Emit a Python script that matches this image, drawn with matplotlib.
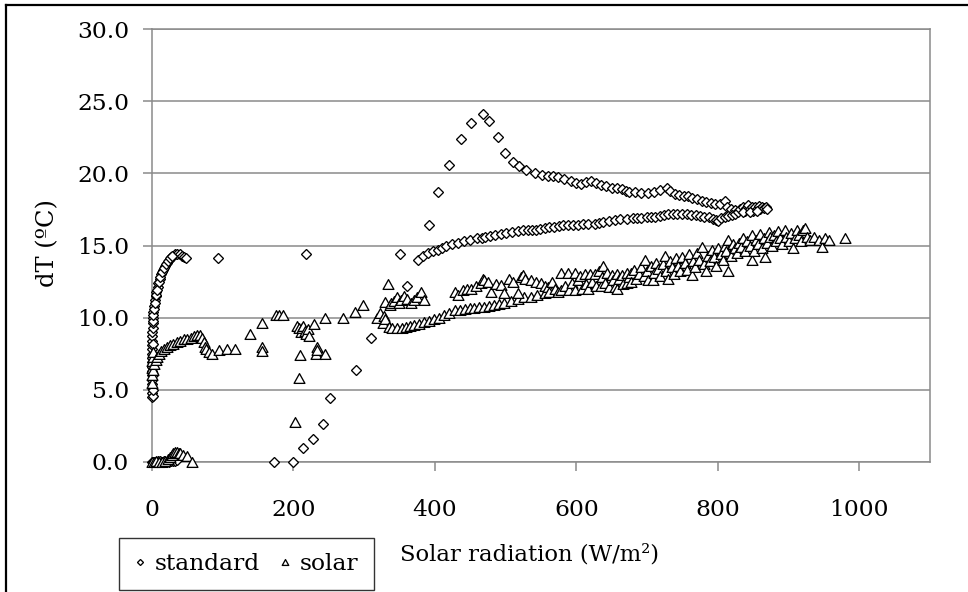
import matplotlib.pyplot as plt
from matplotlib.lines import Line2D
from matplotlib.path import Path

# Collector temperature rise vs. solar radiation, two collector types.

# standard collector: low-radiation morning points
std_morning_x = [0, 2, 4, 6, 8, 10, 12, 14, 17, 20, 24, 27, 30, 33, 36,
                 0, 0, 0, 0, 0, 0, 0, 0, 0, 0, 0, 0, 0, 0, 0, 0, 1, 1, 1,
                 1, 2, 2, 3, 4, 5, 6, 8, 9, 11, 13, 15, 18, 21, 24, 27, 30,
                 33, 36, 39, 42, 45, 48,
                 1, 1, 2, 2, 3, 4, 6, 7, 10, 12, 14, 17, 20, 23, 26, 29]
std_morning_y = [0, 0, 0, 0, 0.05, 0, 0.05, 0, 0.1, 0, 0, 0.1, 0.05, 0.1, 0.15,
                 4.5, 4.8, 5.1, 5.4, 5.7, 6.0, 6.3, 6.6, 6.9, 7.2, 7.5, 7.8, 8.1, 8.4, 8.7, 9.0, 9.3, 4.6, 5.0,
                 9.6, 10.0, 10.4, 10.8, 11.2, 11.5, 11.8, 12.1, 12.4, 12.7, 13.0, 13.3, 13.6, 13.8, 14.0, 14.2, 14.3,
                 14.4, 14.4, 14.4, 14.3, 14.2, 14.1,
                 6.0, 8.2, 9.8, 10.2, 10.6, 11.0, 11.6, 11.9, 12.5, 12.85, 13.15, 13.45, 13.7, 13.9, 14.1, 14.25]

# standard collector: scattered points and the rise towards the peak
std_rise_x = [94, 218, 173, 200, 214, 228, 242, 252, 288, 309, 361, 350, 376, 391,
              404, 420, 437, 451, 468]
std_rise_y = [14.1, 14.4, 0, 0, 1.0, 1.6, 2.6, 4.4, 6.4, 8.6, 12.2, 14.4, 14.0, 16.4,
              18.7, 20.6, 22.4, 23.5, 24.1]

# standard collector: afternoon (falling) branch
std_fall_x = [477, 489, 499, 510, 519, 529, 541, 552, 560, 567, 574, 583, 593, 600,
              607, 614, 621, 628, 635, 642, 650, 657, 664, 670, 675, 683, 692, 701,
              710, 719, 728, 733, 739, 745, 752, 758, 764, 771, 777, 783, 790, 796,
              803, 810, 813, 818, 824]
std_fall_y = [23.6, 22.5, 21.4, 20.8, 20.5, 20.2, 20.0, 19.9, 19.8, 19.8, 19.75, 19.6, 19.5, 19.35,
              19.25, 19.4, 19.5, 19.35, 19.2, 19.1, 19.0, 18.95, 18.9, 18.8, 18.7, 18.7, 18.65, 18.65,
              18.7, 18.85, 19.0, 18.8, 18.6, 18.5, 18.45, 18.4, 18.3, 18.2, 18.1, 18.0, 17.95, 17.9,
              17.85, 18.1, 17.7, 17.55, 17.45]

# standard collector: morning (rising) branch up to midday
std_climb_x = [383, 390, 397, 404, 410, 416, 424, 432, 441, 450, 460, 466, 471, 478,
               485, 493, 501, 509, 517, 525, 532, 538, 543, 549, 555, 562, 569, 575,
               581, 588, 595, 602, 609, 617, 626, 632, 638, 646, 654, 662, 671, 680,
               686, 692, 700, 706, 711, 718, 724, 730, 737, 743, 749, 756, 762, 769,
               775, 781, 788, 793, 797, 800, 805, 810, 815, 820, 825, 829]
std_climb_y = [14.3, 14.5, 14.6, 14.7, 14.85, 15.0, 15.1, 15.2, 15.3, 15.4, 15.5, 15.5, 15.56, 15.65,
               15.74, 15.8, 15.9, 15.95, 16.0, 16.05, 16.07, 16.1, 16.1, 16.15, 16.18, 16.25, 16.3, 16.35,
               16.4, 16.4, 16.4, 16.45, 16.5, 16.5, 16.5, 16.55, 16.6, 16.7, 16.8, 16.85, 16.87, 16.88,
               16.9, 16.9, 16.95, 17.0, 17.0, 17.05, 17.1, 17.15, 17.2, 17.2, 17.2, 17.15, 17.1, 17.1,
               17.05, 17.0, 17.0, 16.85, 16.75, 16.7, 16.9, 17.0, 17.05, 17.1, 17.2, 17.3]

# standard collector: midday cluster
std_noon_x = [832, 835, 838, 840, 843, 845, 848, 850, 852, 855, 858, 860, 862, 865,
              868, 870, 836, 846, 856]
std_noon_y = [17.5, 17.7, 17.4, 17.6, 17.8, 17.5, 17.65, 17.4, 17.7, 17.55, 17.75, 17.5, 17.65, 17.6,
              17.7, 17.55, 17.3, 17.3, 17.4]

# solar collector: low-radiation morning points
sol_morning_x = [0, 3, 6, 10, 14, 18, 22, 25, 28, 30, 33, 36, 38, 40, 44, 49, 56,
                 0, 0, 0, 0, 1, 1,
                 2, 3, 5, 7, 10, 13, 17, 21, 25, 30, 35, 40, 45, 50, 55, 60, 64, 68,
                 71, 73, 75, 77, 80, 85, 95, 106, 117]
sol_morning_y = [0, 0, 0.05, 0, 0, 0.1, 0.2, 0.35, 0.5, 0.6, 0.7, 0.7, 0.6, 0.6, 0.5, 0.4, 0.0,
                 5.5, 6.0, 6.5, 7.0, 7.3, 7.6,
                 6.4, 6.8, 7.1, 7.3, 7.5, 7.7, 7.85, 8.0, 8.1, 8.2, 8.3, 8.4, 8.5, 8.55, 8.6, 8.7, 8.8, 8.8,
                 8.6, 8.3, 8.0, 7.8, 7.6, 7.5, 7.75, 7.8, 7.8]

# solar collector: scattered points between 130 and 320 W/m2
sol_scatter_x = [138, 155, 156, 156, 175, 180, 185, 202, 208, 210, 205, 208, 211, 212,
                 214, 216, 218, 220, 222, 229, 232, 234, 234, 245, 245, 270, 287, 299]
sol_scatter_y = [8.85, 8.0, 7.7, 9.6, 10.2, 10.2, 10.2, 2.75, 5.85, 7.4, 9.45, 9.3, 9.0, 9.25,
                 9.4, 9.1, 8.9, 9.2, 8.7, 9.56, 7.5, 8.0, 7.75, 7.5, 9.95, 9.95, 10.4, 10.9]

# solar collector: lower (morning) branch
sol_lower_x = [318, 322, 326, 328, 330, 335, 340, 347, 353, 359, 365, 371, 378, 385,
               392, 399, 406, 413, 420, 428, 435, 442, 449, 456, 463, 470, 477, 484,
               491, 498, 507, 517, 526, 536, 545, 555]
sol_lower_y = [10.0, 10.3, 9.6, 10.1, 9.9, 9.37, 9.3, 9.26, 9.3, 9.37, 9.45, 9.49, 9.55, 9.67,
               9.75, 9.88, 10.0, 10.18, 10.3, 10.5, 10.55, 10.6, 10.65, 10.7, 10.72, 10.75, 10.8, 10.87,
               10.95, 11.0, 11.15, 11.3, 11.4, 11.45, 11.55, 11.7]

# solar collector: upper (afternoon) scatter
sol_upper_x = [330, 334, 336, 338, 342, 346, 349, 352, 356, 361, 366, 371, 375, 380,
               385, 428, 433, 440, 446, 451, 458, 465, 468, 470, 475, 480, 486, 494,
               498, 505, 510, 517, 522, 524, 528, 536, 543, 550, 556]
sol_upper_y = [11.1, 12.3, 10.9, 11.0, 11.17, 11.4, 11.0, 11.2, 11.5, 11.3, 11.0, 11.2, 11.4, 11.75,
               11.2, 11.8, 11.6, 11.9, 12.0, 11.96, 12.2, 12.4, 12.7, 12.6, 12.5, 11.8, 12.3, 12.26,
               11.7, 12.67, 12.5, 11.7, 12.8, 12.95, 12.7, 12.6, 12.5, 12.37, 12.2]

# solar collector: high-radiation band
sol_band_x = [560, 562, 566, 570, 574, 579, 579, 584, 588, 590, 594, 598, 598, 603,
              605, 608, 612, 614, 617, 619, 622, 626, 628, 632, 635, 637, 638, 641,
              644, 646, 650, 652, 654, 657, 657, 660, 664, 666, 671, 671, 675, 678,
              678, 682, 685, 688, 692, 695, 697, 700, 702, 705, 709, 710, 713, 716,
              719, 722, 725, 727, 730, 732, 735, 738, 741, 744, 747, 750, 753, 756,
              760, 763, 765, 768, 771, 774, 777, 780, 784, 786, 789, 792, 795, 798,
              801, 804, 807, 810, 812, 815, 815, 818, 821, 824, 827, 830, 833, 836,
              839, 842, 845, 848, 848, 851, 854, 857, 860, 862, 865, 867, 869, 872,
              874, 877, 880, 882, 885, 888, 891, 895, 897, 900, 903, 907, 909, 912,
              915, 918, 921, 924, 926, 930, 936, 943, 947, 952, 957, 980]
sol_band_y = [12.1, 11.8, 12.5, 12.0, 11.8, 13.1, 11.9, 12.2, 13.1, 11.9, 12.4, 13.1, 11.9, 12.6,
              12.9, 12.0, 13.0, 12.3, 12.0, 13.0, 12.5, 13.0, 12.2, 13.2, 12.2, 12.8, 13.6, 12.4,
              13.1, 12.1, 12.95, 12.6, 12.1, 13.0, 12.0, 12.7, 12.95, 12.3, 13.1, 12.4, 12.8, 13.1,
              12.5, 13.3, 12.7, 13.0, 13.5, 12.9, 14.0, 13.2, 12.6, 13.6, 12.6, 13.1, 13.8, 13.4,
              12.9, 13.7, 14.3, 13.2, 12.7, 13.9, 13.5, 13.0, 14.1, 13.6, 13.2, 14.2, 13.8, 13.3,
              14.4, 12.95, 13.9, 13.5, 14.5, 14.0, 14.9, 13.7, 13.2, 14.3, 13.9, 14.7, 14.2, 13.6,
              14.8, 14.4, 14.0, 15.0, 14.6, 15.4, 13.2, 14.3, 15.1, 14.8, 14.5, 15.2, 14.9, 15.5,
              14.6, 15.3, 15.0, 14.0, 15.7, 14.6, 15.4, 15.1, 15.8, 14.8, 15.5, 14.2, 15.2, 15.95,
              15.6, 15.0, 15.7, 15.3, 16.0, 15.5, 15.1, 16.07, 15.6, 15.3, 15.9, 14.8, 15.5, 16.1,
              15.7, 15.3, 16.07, 16.2, 15.6, 15.4, 15.6, 15.4, 14.9, 15.5, 15.4, 15.5]

x_ticks = [0, 200, 400, 600, 800, 1000]
y_ticks = [0, 5, 10, 15, 20, 25, 30]

standard_x = std_morning_x + std_rise_x + std_fall_x + std_climb_x + std_noon_x
standard_y = std_morning_y + std_rise_y + std_fall_y + std_climb_y + std_noon_y
solar_x = sol_morning_x + sol_scatter_x + sol_lower_x + sol_upper_x + sol_band_x
solar_y = sol_morning_y + sol_scatter_y + sol_lower_y + sol_upper_y + sol_band_y

plt.rcParams['font.family'] = ['DejaVu Serif']
GRIS = '#8a8a8a'
TAM = 16.8

fig = plt.figure(figsize=(9.68, 5.92), dpi=100)
ax = fig.add_axes([0.157, 0.2196, 0.8037, 0.7314])

# open triangle, a bit flatter than matplotlib's '^'
triangulo = Path([(0, 0.9), (-1, -0.9), (1, -0.9), (0, 0.9)], closed=True)

ax.plot(standard_x, standard_y, linestyle='none', marker='D', ms=5.1,
        mfc='white', mec='black', mew=0.95, clip_on=False, zorder=3, label='standard')
ax.plot(solar_x, solar_y, linestyle='none', marker=triangulo, ms=7.8,
        mfc='white', mec='black', mew=0.95, clip_on=False, zorder=4, label='solar')

ax.set_xlim(0, 1100)
ax.set_ylim(0, 30)
ax.set_xticks(x_ticks)
ax.set_yticks(y_ticks)
ax.set_yticklabels([f'{v:.1f}' for v in y_ticks])
ax.grid(axis='y', color=GRIS, linewidth=1.1)
ax.set_axisbelow(True)
for s in ax.spines.values():
    s.set_color(GRIS)
    s.set_linewidth(1.1)
ax.tick_params(axis='both', direction='out', length=6.5, width=1.1, color=GRIS,
               labelsize=TAM, labelcolor='black')
ax.tick_params(axis='x', pad=20)
ax.tick_params(axis='y', pad=10)

fig.text(48 / 968, 1 - 243 / 592, 'dT (ºC)', rotation=90, ha='center', va='center', fontsize=TAM + 0.6)
fig.text(530 / 968, 1 - 555 / 592, 'Solar radiation (W/m²)', ha='center', va='center', fontsize=TAM - 0.4)

leg = fig.legend(loc='lower left', bbox_to_anchor=(119 / 968, 1 - 590 / 592), ncol=2,
                 fontsize=TAM, markerscale=0.6, handlelength=0.5, handletextpad=0.4,
                 columnspacing=0.8, borderpad=0.65, borderaxespad=0, frameon=True, fancybox=False)
leg.get_frame().set_edgecolor('black')
leg.get_frame().set_linewidth(1.0)

# outer chart frame (left and top edges)
fig.add_artist(Line2D([6 / 968, 6 / 968], [0, 1 - 5 / 592], color='black', linewidth=1.6))
fig.add_artist(Line2D([6 / 968, 1], [1 - 5 / 592, 1 - 5 / 592], color='black', linewidth=1.6))

fig.savefig('out.png', dpi=100)
